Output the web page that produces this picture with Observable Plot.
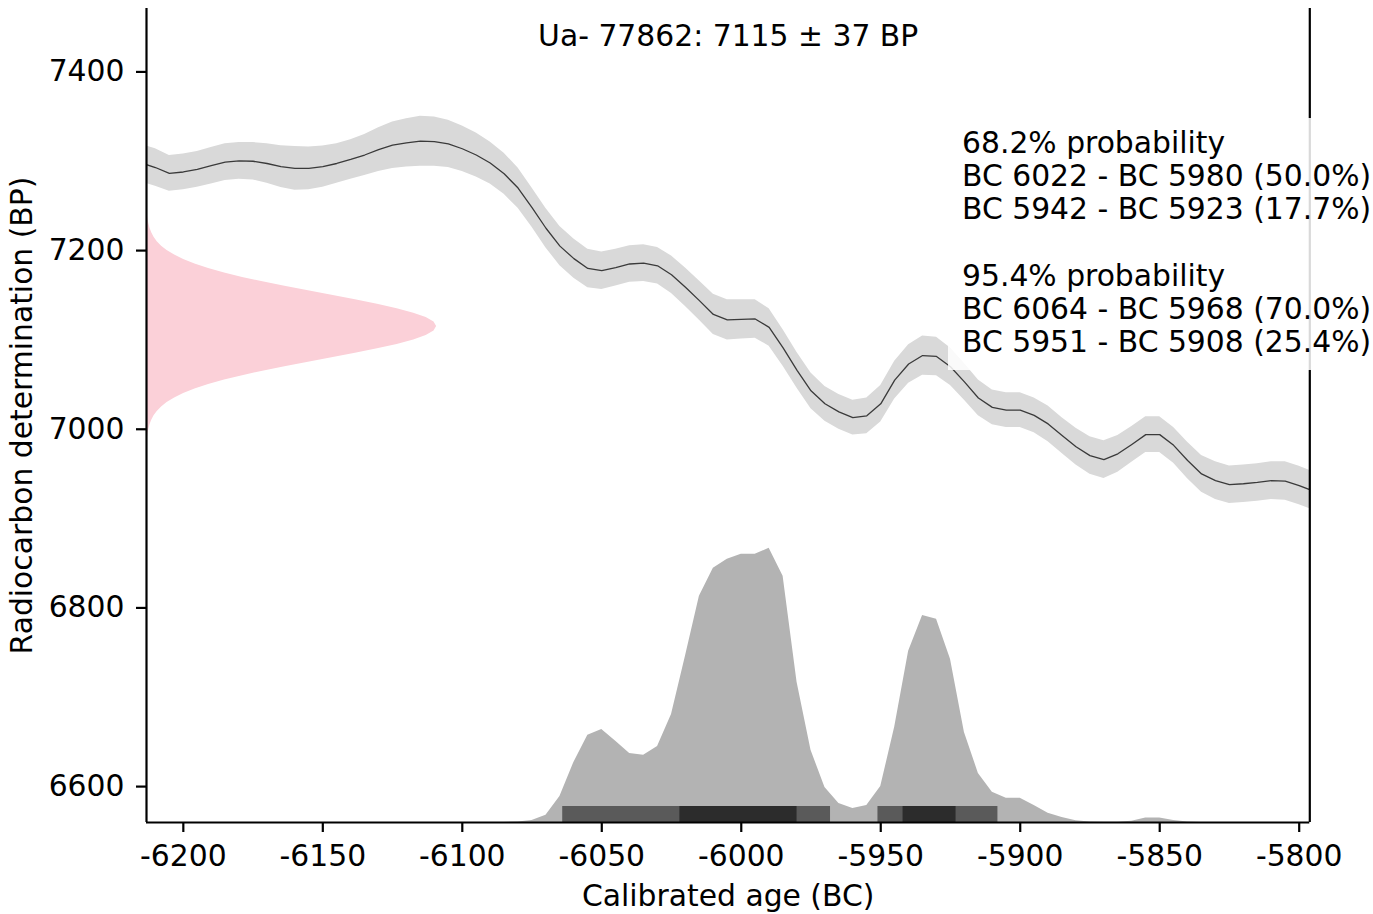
<!DOCTYPE html>
<html>
<head>
<meta charset="utf-8">
<script src="https://cdn.jsdelivr.net/npm/d3@7"></script>
<script src="https://cdn.jsdelivr.net/npm/@observablehq/plot@0.6"></script>
<style>
  html, body { margin: 0; padding: 0; background: #fff; }
  #wrap { position: relative; width: 1373px; height: 914px; overflow: hidden; font-family: "DejaVu Sans", sans-serif; }
  #stats {
    position: absolute; left: 948px; top: 118px; width: 425px; height: 252px;
    box-sizing: border-box; padding: 7.5px 0 0 14px;
    background: rgba(255,255,255,0.85);
    font-family: "DejaVu Sans", sans-serif; font-size: 29.8px; line-height: 33.3px;
    color: #000; white-space: pre;
  }
</style>
</head>
<body>
<div id="wrap"><div id="chart"></div><div id="stats"></div></div>
<script>
// ---- text ----
const title = "Ua- 77862: 7115 ± 37 BP";
const xLabel = "Calibrated age (BC)";
const yLabel = "Radiocarbon determination (BP)";
const statsLines = [
  "68.2% probability",
  "BC 6022 - BC 5980 (50.0%)",
  "BC 5942 - BC 5923 (17.7%)",
  "",
  "95.4% probability",
  "BC 6064 - BC 5968 (70.0%)",
  "BC 5951 - BC 5908 (25.4%)"
];

// ---- axes ----
const xTicks = [-6200, -6150, -6100, -6050, -6000, -5950, -5900, -5850, -5800];
const yTicks = [6600, 6800, 7000, 7200, 7400];
const xDomain = [-6213.2, -5796.2];
const yDomain = [6559.8, 7471];

// ---- calibration curve (cal BC year, BP, 1-sigma) ----
const calYears = [
  -6215,-6210,-6205,-6200,-6195,-6190,-6185,-6180,-6175,-6170,
  -6165,-6160,-6155,-6150,-6145,-6140,-6135,-6130,-6125,-6120,
  -6115,-6110,-6105,-6100,-6095,-6090,-6085,-6080,-6075,-6070,
  -6065,-6060,-6055,-6050,-6045,-6040,-6035,-6030,-6025,-6020,
  -6015,-6010,-6005,-6000,-5995,-5990,-5985,-5980,-5975,-5970,
  -5965,-5960,-5955,-5950,-5945,-5940,-5935,-5930,-5925,-5920,
  -5915,-5910,-5905,-5900,-5895,-5890,-5885,-5880,-5875,-5870,
  -5865,-5860,-5855,-5850,-5845,-5840,-5835,-5830,-5825,-5820,
  -5815,-5810,-5805,-5800,-5795
];
const calBP = [
  7298,7293,7286.5,7288,7291,7295,7299,7300.5,7300,7297.5,
  7294,7292,7292,7294,7297.5,7302,7307,7313,7318,7320.5,
  7322.5,7322,7319.5,7314,7307,7298,7286,7270,7248,7225,
  7205,7191,7180,7177.5,7181,7185,7186,7183,7173,7159,
  7144,7128.5,7122.5,7123,7123.5,7114,7091,7066,7043,7028.5,
  7019.5,7013,7015,7028.5,7055,7073,7082.5,7081.5,7070,7053,
  7035,7024.5,7021.5,7021.5,7015.5,7006,6993,6980.5,6970.5,6966,
  6972.5,6983,6994,6994,6982,6965,6950,6942.5,6938,6939,
  6940.5,6942.5,6942,6937,6931
];
const calSigma = [
  21,21,20,20,20,20.5,20.5,20.5,21,22,
  23.5,24.5,24,23,22,22,23,24.5,26,27,
  28,27.5,26.5,25.5,24.5,23.5,23,22.5,22,22,
  22,22,21.5,21,20.5,20.5,20.5,20.5,21,21.5,
  22,22.5,22.5,22,21.5,21,20.5,20,20,19.5,
  19.5,19.5,20,20.5,21,21.5,22,21.5,21,20.5,
  20,19.5,19.5,19.5,19.5,20,20,20.5,21,21,
  20.5,20,20,20,20,20.5,20.5,21,21,21,
  21,21,21.5,21.5,21.5
];

// ---- calibrated probability (relative) ----
const probYears = [
  -6085,-6080,-6075,-6070,-6065,-6060,-6055,-6050,-6045,-6040,
  -6035,-6030,-6025,-6020,-6015,-6010,-6005,-6000,-5995,-5990,
  -5985,-5980,-5975,-5970,-5965,-5960,-5955,-5950,-5945,-5940,
  -5935,-5930,-5925,-5920,-5915,-5910,-5905,-5900,-5895,-5890,
  -5885,-5880,-5875,-5870,-5865,-5860,-5855,-5850,-5845,-5840,
  -5835
];
const probValues = [
  0,0.002,0.007,0.026,0.095,0.219,0.318,0.339,0.296,0.252,
  0.245,0.277,0.394,0.606,0.825,0.927,0.96,0.978,0.978,1.0,
  0.898,0.511,0.263,0.128,0.069,0.051,0.062,0.131,0.347,0.624,
  0.755,0.741,0.595,0.328,0.179,0.11,0.088,0.088,0.062,0.034,
  0.018,0.006,0.002,0.001,0.001,0.005,0.016,0.016,0.007,0.002,
  0
];

// ---- radiocarbon determination (relative density) ----
const pinkBP = [
  6985,6990,6995,7000,7005,7010,7015,7020,7025,7030,
  7035,7040,7045,7050,7055,7060,7065,7070,7075,7080,
  7085,7090,7095,7100,7105,7110,7115,7120,7125,7130,
  7135,7140,7145,7150,7155,7160,7165,7170,7175,7180,
  7185,7190,7195,7200,7205,7210,7215,7220,7225,7230,
  7235,7240,7245
];
const pinkDensity = [
  0.002,0.003,0.005,0.008,0.012,0.018,0.026,0.037,0.052,0.071,
  0.097,0.128,0.167,0.214,0.269,0.331,0.401,0.477,0.558,0.639,
  0.720,0.796,0.864,0.921,0.964,0.991,1.000,0.991,0.964,0.921,
  0.864,0.796,0.720,0.639,0.558,0.477,0.401,0.331,0.269,0.214,
  0.167,0.128,0.097,0.071,0.052,0.037,0.026,0.018,0.012,0.008,
  0.005,0.003,0.002
];

// ---- HPD ranges ----
const hpd95Start = [-6064, -5951];
const hpd95End   = [-5968, -5908];
const hpd68Start = [-6022, -5942];
const hpd68End   = [-5980, -5923];

// ---- build tables ----
const cal = calYears.map((year, i) => ({year, bp: calBP[i], s: calSigma[i]}));
const prob = probYears.map((year, i) => ({year, p: probValues[i]}));
const pink = pinkBP.map((bp, i) => ({bp, d: pinkDensity[i]}));
const hpd95 = hpd95Start.map((s, i) => ({start: s, end: hpd95End[i]}));
const hpd68 = hpd68Start.map((s, i) => ({start: s, end: hpd68End[i]}));

const X0 = xDomain[0], X1 = xDomain[1], Y0 = yDomain[0];
const PINK_MAX = 104;   // years at peak
const PROB_MAX = 307;   // BP at peak
const BAR_H = 17.9;     // BP
const FS = 29.8;
const fmt = d => String(d);

const chart = Plot.plot({
  width: 1373,
  height: 914,
  marginLeft: 146,
  marginRight: 63.7,
  marginTop: 8,
  marginBottom: 92,
  style: {fontFamily: "DejaVu Sans, sans-serif", fontSize: FS + "px", color: "#000", background: "#fff", overflow: "visible"},
  x: {domain: xDomain, ticks: xTicks, tickFormat: fmt},
  y: {domain: yDomain, ticks: yTicks, tickFormat: fmt},
  marks: [
    Plot.areaY(cal, {x: "year", y1: d => d.bp - d.s, y2: d => d.bp + d.s, fill: "#d9d9d9", clip: true}),
    Plot.line(cal, {x: "year", y: "bp", stroke: "#3a3a3a", strokeWidth: 1.3, clip: true}),
    Plot.areaX(pink, {y: "bp", x1: () => X0, x2: d => X0 + d.d * PINK_MAX, fill: "#fbd0d8"}),
    Plot.areaY(prob, {x: "year", y1: () => Y0, y2: d => Y0 + d.p * PROB_MAX, fill: "#b3b3b3"}),
    Plot.rect(hpd95, {x1: "start", x2: "end", y1: () => Y0, y2: () => Y0 + BAR_H, fill: "#5a5a5a"}),
    Plot.rect(hpd68, {x1: "start", x2: "end", y1: () => Y0, y2: () => Y0 + BAR_H, fill: "#2c2c2c"}),
    Plot.axisX({ticks: xTicks, tickFormat: fmt, tickSize: 10, tickPadding: 12, strokeWidth: 2.2, label: null, fontSize: FS}),
    Plot.axisY({ticks: yTicks, tickFormat: fmt, tickSize: 10, tickPadding: 12, strokeWidth: 2.2, label: null, fontSize: FS}),
    Plot.ruleX([X0], {stroke: "#000", strokeWidth: 2.2}),
    Plot.ruleX([X1], {stroke: "#000", strokeWidth: 2.2}),
    Plot.ruleY([Y0], {stroke: "#000", strokeWidth: 2.2}),
    Plot.text([title], {frameAnchor: "top", dy: 28, lineAnchor: "middle", textAnchor: "middle", fontSize: FS, fill: "#000"}),
    Plot.text([xLabel], {frameAnchor: "bottom", dy: 74, lineAnchor: "middle", textAnchor: "middle", fontSize: FS, fill: "#000"}),
    Plot.text([yLabel], {frameAnchor: "left", dx: -124, rotate: -90, lineAnchor: "middle", textAnchor: "middle", fontSize: FS, fill: "#000"})
  ]
});
document.getElementById("chart").appendChild(chart);
document.getElementById("stats").textContent = statsLines.join("\n");
</script>
</body>
</html>
